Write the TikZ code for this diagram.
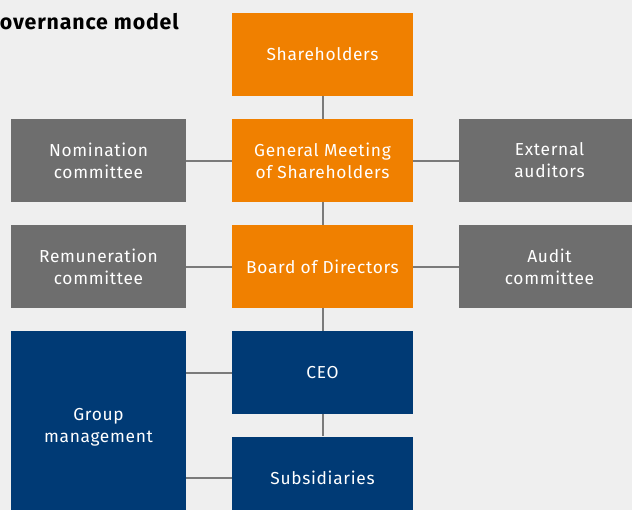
\documentclass[tikz,border=0pt]{standalone}
\usepackage{fontspec}
\setmainfont{Fira Sans}[LetterSpace=4]
\definecolor{bg}{HTML}{EFEFEF}
\definecolor{org}{HTML}{F08000}
\definecolor{gry}{HTML}{6E6E6E}
\definecolor{navy}{HTML}{003A75}
\definecolor{conn}{HTML}{7A7A7A}
\begin{document}
\begin{tikzpicture}[x=0.75pt,y=-0.75pt,
  box/.style={rectangle, inner sep=0pt, text=white, align=center,
    font=\fontsize{13}{16.5}\selectfont, minimum height=62.25pt},
  obox/.style={box, fill=org, minimum width=135.75pt},
  gbox/.style={box, fill=gry, minimum width=131.25pt},
  gbox2/.style={box, fill=gry, minimum width=135.75pt},
  nbox/.style={box, fill=navy, minimum width=135.75pt},
  link/.style={draw=conn, line width=1.5pt}]
\useasboundingbox (0,0) rectangle (632,510);
\clip (0,0) rectangle (632,510);
\fill[bg] (0,0) rectangle (632,510);
\node[anchor=base west, font=\fontsize{16}{19}\bfseries\selectfont, text=black, inner sep=0pt] (title) at (-15,30) {Governance model};
\node[obox] (sh) at (322.5,54.5) {Shareholders};
\node[obox] (gm) at (322.5,160.5) {General Meeting\\of Shareholders};
\node[obox] (bd) at (322.5,266.5) {Board of Directors};
\node[nbox] (ceo) at (322.5,372.5) {CEO};
\node[nbox] (sub) at (322.5,478) {Subsidiaries};
\node[gbox] (nom) at (98.5,160.5) {Nomination\\committee};
\node[gbox] (rem) at (98.5,266.5) {Remuneration\\committee};
\node[gbox2] (ext) at (549.5,160.5) {External\\auditors};
\node[gbox2] (aud) at (549.5,266.5) {Audit\\committee};
\node[nbox, minimum width=131.25pt, minimum height=144pt] (grp) at (98.5,427) {Group\\management};
\draw[link] (sh) -- (gm);
\draw[link] (gm) -- (bd);
\draw[link] (bd) -- (ceo);
\draw[link] (ceo) -- (sub);
\draw[link] (gm) -- (nom);
\draw[link] (gm) -- (ext);
\draw[link] (bd) -- (rem);
\draw[link] (bd) -- (aud);
\draw[link] (ceo.west) -- (grp.east |- ceo.west);
\draw[link] (sub.west) -- (grp.east |- sub.west);
\end{tikzpicture}
\end{document}
